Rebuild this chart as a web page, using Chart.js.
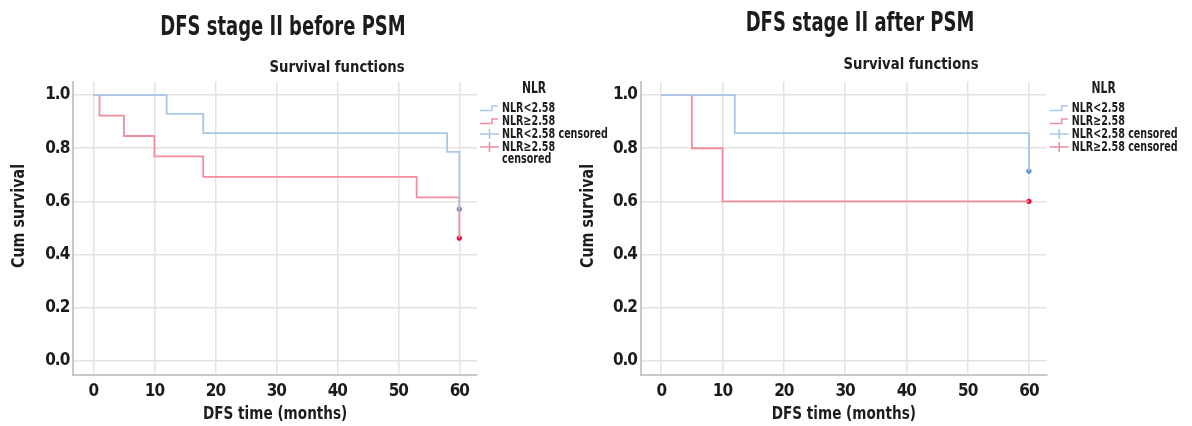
<!DOCTYPE html>
<html><head><meta charset="utf-8">
<script src="https://cdn.jsdelivr.net/npm/chart.js@4/dist/chart.umd.min.js"></script>
<style>
html,body{margin:0;padding:0;background:#fff;width:1192px;height:426px;overflow:hidden;}
.wrap{position:absolute;top:0;height:426px;}
canvas{display:block;}
</style></head><body>
<div class="wrap" style="left:0;width:640px"><canvas id="c1" width="640" height="426"></canvas></div>
<div class="wrap" style="left:576px;width:616px"><canvas id="c2" width="616" height="426"></canvas></div>
<script>
// ---------- DATA ----------
const xTicks = [0, 10, 20, 30, 40, 50, 60];
const yTicks = [0.0, 0.2, 0.4, 0.6, 0.8, 1.0];

const titleBefore = 'DFS stage II before PSM';
const titleAfter = 'DFS stage II after PSM';
const subTitle = 'Survival functions';
const xAxisTitle = 'DFS time (months)';
const yAxisTitle = 'Cum survival';
const legendTitle = 'NLR';
const legendBefore = ['NLR<2.58', 'NLR≥2.58', 'NLR<2.58 censored', ['NLR≥2.58', 'censored']];
const legendAfter = ['NLR<2.58', 'NLR≥2.58', 'NLR<2.58 censored', 'NLR≥2.58 censored'];

// before PSM
const beforeLowTime = [0, 12, 18, 58, 60];
const beforeLowSurv = [1.0, 0.929, 0.857, 0.786, 0.571];
const beforeHighTime = [0, 1, 5, 10, 18, 53, 60];
const beforeHighSurv = [1.0, 0.923, 0.846, 0.769, 0.692, 0.615, 0.462];
const beforeLowCensTime = [60];
const beforeLowCensSurv = [0.571];
const beforeHighCensTime = [60];
const beforeHighCensSurv = [0.462];

// after PSM
const afterLowTime = [0, 12, 60];
const afterLowSurv = [1.0, 0.857, 0.714];
const afterHighTime = [0, 5, 10, 60];
const afterHighSurv = [1.0, 0.8, 0.6, 0.6];
const afterLowCensTime = [60];
const afterLowCensSurv = [0.714];
const afterHighCensTime = [60];
const afterHighCensSurv = [0.6];

// ---------- STYLE ----------
const FONT = "'Liberation Sans Narrow', 'Arial Narrow', 'DejaVu Sans Condensed', sans-serif";
const TEXT = '#1c1c1c';
const GRID = '#e6e2de';
const AXIS = '#c8c8c8';
const BLUE = '#a9c6ea';
const RED = '#f28da0';
const BLUE_DARK = '#5e93d4';
const RED_DARK = '#e0143c';

const pts = (t, s) => t.map((v, i) => ({x: v, y: s[i]}));

function datasets(lowT, lowS, highT, highS, lcT, lcS, hcT, hcS) {
  return [
    {label: 'low', data: pts(lowT, lowS), showLine: true, stepped: 'before', borderColor: BLUE, borderWidth: 1.8, pointRadius: 0, icon: 'step'},
    {label: 'high', data: pts(highT, highS), showLine: true, stepped: 'before', borderColor: RED, borderWidth: 1.8, pointRadius: 0, icon: 'step'},
    {label: 'lowc', data: pts(lcT, lcS), showLine: false, borderColor: BLUE, pointBackgroundColor: BLUE_DARK, pointBorderColor: BLUE_DARK, pointRadius: 2.3, pointBorderWidth: 1, icon: 'cross'},
    {label: 'highc', data: pts(hcT, hcS), showLine: false, borderColor: RED, pointBackgroundColor: RED_DARK, pointBorderColor: RED_DARK, pointRadius: 2.3, pointBorderWidth: 1, icon: 'cross'}
  ];
}

const spacing = {
  id: 'spacing',
  beforeDraw(chart) { chart.ctx.letterSpacing = '-1px'; }
};

// draw horizontally condensed text
function sText(ctx, txt, x, y, sx, rot) {
  ctx.save();
  ctx.translate(x, y);
  if (rot) ctx.rotate(rot);
  ctx.scale(sx, 1);
  ctx.fillText(txt, 0, 0);
  ctx.restore();
}

const decor = {
  id: 'decor',
  afterDraw(chart, args, o) {
    const ctx = chart.ctx, ca = chart.chartArea;
    ctx.save();
    ctx.fillStyle = TEXT;
    ctx.textAlign = 'center';
    ctx.textBaseline = 'alphabetic';
    ctx.letterSpacing = '0px';
    ctx.font = `bold 27px ${FONT}`;
    sText(ctx, o.title, o.titleX, o.titleY, 0.74);
    ctx.font = `bold 16px ${FONT}`;
    sText(ctx, o.subtitle, o.subX, o.subY, 0.92);
    // axis titles
    ctx.font = `bold 18px ${FONT}`;
    ctx.textBaseline = 'middle';
    sText(ctx, o.xTitle, (ca.left + ca.right) / 2, o.xTitleY, 0.84);
    sText(ctx, o.yTitle, o.yTitleX, o.yTitleY, 0.88, -Math.PI / 2);
    // legend
    const lx = ca.right + 3, tx = ca.right + 25;
    ctx.font = `bold 15px ${FONT}`;
    sText(ctx, o.legendTitle, tx + 32, 89, 0.8);
    ctx.font = `bold 14px ${FONT}`;
    ctx.textAlign = 'left';
    let y = 108;
    chart.data.datasets.forEach((ds, i) => {
      const lab = o.labels[i];
      const lines = Array.isArray(lab) ? lab : [lab];
      ctx.strokeStyle = ds.borderColor;
      ctx.lineWidth = 1.5;
      ctx.beginPath();
      if (ds.icon === 'step') {
        ctx.moveTo(lx, y + 2.5); ctx.lineTo(lx + 12, y + 2.5);
        ctx.lineTo(lx + 12, y - 2); ctx.lineTo(lx + 18, y - 2);
      } else {
        ctx.moveTo(lx, y); ctx.lineTo(lx + 19, y);
        ctx.moveTo(lx + 9.5, y - 5); ctx.lineTo(lx + 9.5, y + 5);
      }
      ctx.stroke();
      lines.forEach((ln, k) => sText(ctx, ln, tx, y + k * 12.5, 0.76));
      y += 13 * lines.length;
    });
    ctx.restore();
  }
};

function makeChart(id, ds, yWidth, rightPad, deco) {
  return new Chart(document.getElementById(id), {
    type: 'scatter',
    data: {datasets: ds},
    plugins: [spacing, decor],
    options: {
      responsive: false, animation: false, devicePixelRatio: 1,
      layout: {padding: {left: 0, right: rightPad, top: 81.5, bottom: 0}},
      plugins: {legend: {display: false}, tooltip: {enabled: false}, decor: deco},
      scales: {
        x: {
          type: 'linear', min: -3.3, max: 62.9,
          afterBuildTicks: s => { s.ticks = xTicks.map(v => ({value: v})); },
          afterFit: s => { s.height = 51; },
          grid: {color: GRID, lineWidth: 1.5, drawTicks: false},
          border: {display: true, color: AXIS, width: 2},
          ticks: {font: {family: FONT, size: 17, weight: 'bold'}, color: TEXT, padding: 6, maxRotation: 0, autoSkip: false}
        },
        y: {
          type: 'linear', min: -0.053, max: 1.051,
          afterBuildTicks: s => { s.ticks = yTicks.map(v => ({value: v})); },
          afterFit: s => { s.width = yWidth; },
          grid: {color: GRID, lineWidth: 1.5, drawTicks: false},
          border: {display: true, color: AXIS, width: 2},
          ticks: {font: {family: FONT, size: 17, weight: 'bold'}, color: TEXT, padding: 4,
                  callback: v => Number(v).toFixed(1)}
        }
      }
    }
  });
}

makeChart('c1',
  datasets(beforeLowTime, beforeLowSurv, beforeHighTime, beforeHighSurv, beforeLowCensTime, beforeLowCensSurv, beforeHighCensTime, beforeHighCensSurv),
  73.3, 640 - 477,
  {title: titleBefore, titleX: 283, titleY: 35, subtitle: subTitle, subX: 337, subY: 71.5,
   xTitle: xAxisTitle, xTitleY: 414, yTitle: yAxisTitle, yTitleX: 19, yTitleY: 216,
   legendTitle: legendTitle, labels: legendBefore});

makeChart('c2',
  datasets(afterLowTime, afterLowSurv, afterHighTime, afterHighSurv, afterLowCensTime, afterLowCensSurv, afterHighCensTime, afterHighCensSurv),
  65, 616 - 470.7,
  {title: titleAfter, titleX: 284, titleY: 31, subtitle: subTitle, subX: 335, subY: 69,
   xTitle: xAxisTitle, xTitleY: 414, yTitle: yAxisTitle, yTitleX: 12, yTitleY: 216,
   legendTitle: legendTitle, labels: legendAfter});
</script>
</body></html>
